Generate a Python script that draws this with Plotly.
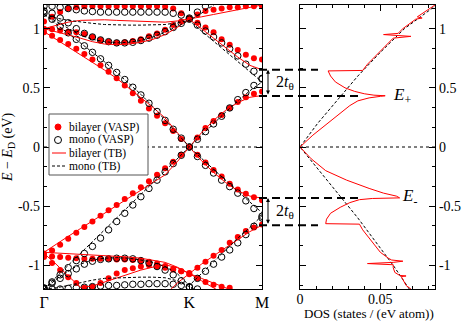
import plotly.graph_objects as go

# k-path: Gamma at 0, K at 18, M at 27 (index of the VASP k-points)
k_vasp = [0, 1, 2, 3, 4, 5, 6, 7, 8, 9, 10, 11, 12, 13, 14, 15, 16, 17, 18,
          19, 20, 21, 22, 23, 24, 25, 26, 27]
k_tb = [0, 1.5, 3, 4.5, 6, 7.5, 9, 10.5, 12, 13.5, 15, 16.5, 18,
        19.5, 21, 22.5, 24, 25.5, 27]
path_ticks = [0, 18, 27]
path_labels = ["Γ", "K", "M"]

# bilayer (VASP) bands, eV
bi_vasp_1 = [0.97, 0.94, 0.905, 0.87, 0.83, 0.785, 0.74, 0.69, 0.635, 0.58, 0.52, 0.455, 0.39, 0.325,
             0.265, 0.20, 0.135, 0.068, 0.0, 0.08, 0.16, 0.22, 0.27, 0.33, 0.38, 0.42, 0.45, 0.47]
bi_vasp_2 = [1.0, 0.995, 0.985, 0.975, 0.97, 0.955, 0.93, 0.905, 0.89, 0.88, 0.885, 0.895, 0.91, 0.935,
             0.96, 0.99, 1.03, 1.06, 1.08, 1.05, 1.01, 0.97, 0.91, 0.865, 0.82, 0.78, 0.75, 0.74]
bi_vasp_3 = [1.06, 1.10, 1.14, 1.17, 1.18, 1.19, 1.19, 1.19, 1.19, 1.19, 1.19, 1.19, 1.19, 1.19,
             1.19, 1.185, 1.17, 1.13, 1.09, 1.12, 1.15, 1.16, 1.17, 1.18, 1.18, 1.19, 1.19, 1.19]
bi_vasp_4 = [-0.90, -0.875, -0.825, -0.775, -0.725, -0.675, -0.63, -0.58, -0.535, -0.49, -0.44, -0.39,
             -0.34, -0.29, -0.235, -0.18, -0.125, -0.065, 0.0, -0.065, -0.13, -0.195, -0.25, -0.31,
             -0.36, -0.395, -0.425, -0.45]
bi_vasp_5 = [-0.92, -0.925, -0.93, -0.935, -0.94, -0.945, -0.945, -0.945, -0.945, -0.95, -0.95, -0.955,
             -0.96, -0.97, -0.985, -1.005, -1.03, -1.05, -1.075, -1.11, -1.14, -1.165, -1.18, -1.19,
             None, None, None, None]
bi_vasp_6 = [-0.93, -0.98, -1.04, -1.10, -1.15, -1.19, -1.18, -1.15, -1.11, -1.07, -1.04, -1.025,
             -1.01, -1.0, -1.01, -1.02, -1.035, -1.05, -1.065, -1.02, -0.97, -0.92, -0.87, -0.81,
             -0.76, -0.71, -0.68, -0.655]

# monolayer (VASP) bands, eV
mono_vasp_1 = [1.13, 1.08, 1.02, 0.965, 0.91, 0.855, 0.80, 0.745, 0.69, 0.63, 0.57, 0.505, 0.44, 0.37,
               0.30, 0.225, 0.15, 0.075, 0.0, 0.065, 0.13, 0.195, 0.26, 0.33, 0.40, 0.46, 0.52, 0.575]
mono_vasp_2 = [1.15, 1.13, 1.09, 1.05, 1.0, 0.96, 0.93, 0.905, 0.89, 0.88, 0.88, 0.885, 0.90, 0.92,
               0.945, 0.975, 1.01, 1.045, 1.08, 1.03, 0.98, 0.93, 0.88, 0.83, 0.77, 0.70, 0.64, 0.58]
mono_vasp_3 = [1.19, 1.19, 1.18, 1.17, 1.16, 1.15, 1.145, 1.14, 1.14, 1.14, 1.14, 1.14, 1.14, 1.14,
               1.14, 1.14, 1.13, 1.115, 1.09, 1.14, 1.19, None, None, None, None, None, None, None]
mono_vasp_4 = [-1.2, -1.14, -1.08, -1.02, -0.96, -0.90, -0.84, -0.77, -0.70, -0.63, -0.56, -0.49,
               -0.42, -0.35, -0.28, -0.21, -0.14, -0.07, 0.0, -0.08, -0.155, -0.22, -0.28, -0.335,
               -0.39, -0.455, -0.52, -0.585]
mono_vasp_5 = [-1.19, -1.15, -1.11, -1.07, -1.03, -0.99, -0.965, -0.95, -0.945, -0.94, -0.94, -0.945,
               -0.96, -0.98, -1.01, -1.04, -1.08, -1.13, -1.18, -1.11, -1.05, -0.99, -0.93, -0.87,
               -0.81, -0.74, -0.67, -0.60]
mono_vasp_6 = [-1.2, -1.2, -1.2, -1.195, -1.19, -1.185, -1.18, -1.175, -1.17, -1.17, -1.165, -1.16,
               -1.16, -1.155, -1.155, -1.155, -1.16, -1.17, -1.185, -1.2, None, None, None, None,
               None, None, None, None]

# bilayer (TB) bands, eV
bi_tb_1 = [0.975, 0.91, 0.85, 0.785, 0.72, 0.65, 0.58, 0.50, 0.42, 0.335, 0.245, 0.125, 0.0,
           0.12, 0.225, 0.31, 0.375, 0.42, 0.435]
bi_tb_2 = [1.0, 0.975, 0.95, 0.92, 0.89, 0.87, 0.865, 0.87, 0.885, 0.91, 0.95, 1.01, 1.08,
           1.0, 0.92, 0.84, 0.76, 0.69, 0.653]
bi_tb_3 = [1.0, 1.03, 1.055, 1.07, 1.075, 1.075, 1.07, 1.065, 1.06, 1.055, 1.055, 1.065, 1.08,
           1.1, 1.12, 1.14, 1.16, 1.18, 1.2]
bi_tb_4 = [-0.89, -0.82, -0.755, -0.69, -0.625, -0.565, -0.5, -0.435, -0.37, -0.305, -0.235, -0.125, 0.0,
           -0.115, -0.215, -0.3, -0.37, -0.415, -0.432]
bi_tb_5 = [-0.89, -0.895, -0.9, -0.905, -0.91, -0.915, -0.92, -0.93, -0.94, -0.955, -0.975, -1.015, -1.07,
           -1.11, -1.15, -1.19, -1.23, None, None]
bi_tb_6 = [-0.9, -0.99, -1.09, -1.185, -1.175, -1.14, -1.105, -1.07, -1.04, -1.015, -0.995, -1.02, -1.07,
           -1.13, -1.19, -1.25, None, None, None]
bi_tb_7 = [None, None, None, None, None, None, None, None, None, None, -1.25, -1.15, -1.07,
           -0.99, -0.92, -0.85, -0.78, -0.715, -0.661]

# monolayer (TB) bands, eV
mono_tb_1 = [1.12, 1.04, 0.965, 0.885, 0.80, 0.72, 0.63, 0.54, 0.445, 0.34, 0.23, 0.115, 0.0,
             0.1, 0.195, 0.295, 0.39, 0.475, 0.55]
mono_tb_2 = [1.12, 1.06, 1.0, 0.945, 0.91, 0.89, 0.88, 0.885, 0.9, 0.93, 0.97, 1.02, 1.07,
             0.98, 0.895, 0.81, 0.725, 0.64, 0.55]
mono_tb_3 = [1.12, 1.09, 1.07, 1.055, 1.045, 1.035, 1.03, 1.03, 1.03, 1.03, 1.035, 1.05, 1.07,
             1.13, 1.2, 1.27, None, None, None]
mono_tb_4 = [-1.2, -1.1, -1.0, -0.9, -0.8, -0.7, -0.6, -0.5, -0.4, -0.3, -0.2, -0.1, 0.0,
             -0.095, -0.19, -0.285, -0.375, -0.465, -0.555]
mono_tb_5 = [-1.2, -1.12, -1.05, -0.99, -0.955, -0.94, -0.935, -0.94, -0.955, -0.975, -1.01, -1.07, -1.17,
             -1.07, -0.97, -0.87, -0.77, -0.68, -0.58]
mono_tb_6 = [-1.2, -1.19, -1.17, -1.145, -1.125, -1.11, -1.105, -1.1, -1.1, -1.1, -1.105, -1.13, -1.18,
             -1.23, None, None, None, None, None]

# density of states (states / (eV atom)) against energy
dos_bi_energy = [-1.2, -1.17, -1.12, -1.095, -1.09, -1.085, -1.06, -1.02, -0.995, -0.985, -0.975, -0.965,
                 -0.955, -0.94, -0.89, -0.80, -0.70, -0.652, -0.648, -0.61, -0.56, -0.51, -0.47, -0.445,
                 -0.435, -0.43, -0.415, -0.39, -0.35, -0.28, -0.20, -0.10, 0.0, 0.10, 0.20, 0.29, 0.35,
                 0.39, 0.415, 0.428, 0.433, 0.438, 0.45, 0.47, 0.50, 0.55, 0.60, 0.643, 0.647, 0.70,
                 0.80, 0.90, 0.92, 0.935, 0.94, 0.95, 0.96, 1.0, 1.08, 1.09, 1.10, 1.2]
dos_bi = [0.069, 0.066, 0.064, 0.063, 0.066, 0.062, 0.059, 0.058, 0.058, 0.042, 0.058, 0.064,
          0.057, 0.055, 0.05, 0.045, 0.039, 0.037, 0.016, 0.0165, 0.019, 0.025, 0.031, 0.037,
          0.045, 0.062, 0.06, 0.052, 0.043, 0.029, 0.016, 0.007, 0.0, 0.008, 0.017, 0.025, 0.031,
          0.036, 0.043, 0.05, 0.053, 0.046, 0.04, 0.034, 0.028, 0.022, 0.019, 0.0175, 0.039, 0.042,
          0.049, 0.056, 0.058, 0.069, 0.061, 0.052, 0.061, 0.064, 0.072, 0.076, 0.073, 0.084]
dos_mono_energy = [-1.2, -1.0, -0.8, -0.6, -0.4, -0.2, 0.0, 0.2, 0.4, 0.6, 0.8, 1.0, 1.2]
dos_mono = [0.068, 0.058, 0.047, 0.036, 0.024, 0.012, 0.0, 0.011, 0.0235, 0.036, 0.05, 0.065, 0.085]

# van Hove / gap edges at M (E+ pair and E- pair), eV
edges_upper = [0.653, 0.432]
edges_lower = [-0.432, -0.661]

W, H = 463, 321
ML, MR, MT, MB = 44, 28, 5, 32
FONT = "Liberation Serif"
RED = "#ff0000"


def px(x):
    return (x - ML) / (W - ML - MR)


def py(y):
    return 1 - (y - MT) / (H - MT - MB)


fig = go.Figure()

for band in [bi_vasp_1, bi_vasp_2, bi_vasp_3, bi_vasp_4, bi_vasp_5, bi_vasp_6]:
    fig.add_trace(go.Scatter(x=k_vasp, y=band, mode="markers", xaxis="x", yaxis="y",
                             marker=dict(symbol="circle", size=6, color=RED),
                             showlegend=False, hoverinfo="skip"))
for band in [mono_vasp_1, mono_vasp_2, mono_vasp_3, mono_vasp_4, mono_vasp_5, mono_vasp_6]:
    fig.add_trace(go.Scatter(x=k_vasp, y=band, mode="markers", xaxis="x", yaxis="y",
                             marker=dict(symbol="circle-open", size=6.5, color="black",
                                         line=dict(width=1)),
                             showlegend=False, hoverinfo="skip"))
for band in [bi_tb_1, bi_tb_2, bi_tb_3, bi_tb_4, bi_tb_5, bi_tb_6, bi_tb_7]:
    fig.add_trace(go.Scatter(x=k_tb, y=band, mode="lines", xaxis="x", yaxis="y",
                             line=dict(color=RED, width=1),
                             showlegend=False, hoverinfo="skip"))
for band in [mono_tb_1, mono_tb_2, mono_tb_3, mono_tb_4, mono_tb_5, mono_tb_6]:
    fig.add_trace(go.Scatter(x=k_tb, y=band, mode="lines", xaxis="x", yaxis="y",
                             line=dict(color="black", width=1, dash="3px,2px"),
                             showlegend=False, hoverinfo="skip"))

# DOS panel
fig.add_trace(go.Scatter(x=dos_mono, y=dos_mono_energy, mode="lines", xaxis="x2", yaxis="y2",
                         line=dict(color="black", width=1, dash="3px,2px"),
                         showlegend=False, hoverinfo="skip"))
fig.add_trace(go.Scatter(x=dos_bi, y=dos_bi_energy, mode="lines", xaxis="x2", yaxis="y2",
                         line=dict(color=RED, width=1),
                         showlegend=False, hoverinfo="skip"))

axis_common = dict(showline=True, linecolor="black", linewidth=1.2, mirror="ticks",
                   ticks="inside", tickcolor="black", tickwidth=1, showgrid=False,
                   zeroline=False, automargin=False)
tick_font = dict(family=FONT, size=14, color="black")
energy_ticks = dict(tickmode="array", tickvals=[-1, -0.5, 0, 0.5, 1],
                    ticktext=["-1", "-0.5", "0", "0.5", "1"], range=[-1.2, 1.2], ticklen=6,
                    tickfont=tick_font,
                    minor=dict(tick0=0, dtick=0.5 / 3, ticks="inside", ticklen=3,
                               tickcolor="black"))

shapes = []
# zero-energy dotted lines
for xr, yr in [("x domain", "y"), ("x2 domain", "y2")]:
    shapes.append(dict(type="line", xref=xr, yref=yr, x0=0, x1=1, y0=0, y1=0, layer="below",
                       line=dict(color="black", width=1, dash="dot")))
# long dashed lines marking the split peaks
for e, x_end in zip(edges_upper + edges_lower, [318, 358, 358, 318]):
    shapes.append(dict(type="line", xref="paper", yref="y", x0=px(259), x1=px(x_end), y0=e, y1=e,
                       line=dict(color="black", width=2, dash="8px,5px")))

# legend box, drawn by hand to match the compact original
shapes.append(dict(type="rect", xref="paper", yref="paper", x0=px(49), x1=px(148), y0=py(175),
                   y1=py(114), fillcolor="white", line=dict(color="#555555", width=1)))
shapes.append(dict(type="circle", xref="paper", yref="paper", x0=px(55), x1=px(61), y0=py(130),
                   y1=py(124), fillcolor=RED, line=dict(color=RED, width=1)))
shapes.append(dict(type="circle", xref="paper", yref="paper", x0=px(54.5), x1=px(61.5),
                   y0=py(143.5), y1=py(136.5), line=dict(color="black", width=1)))
shapes.append(dict(type="line", xref="paper", yref="paper", x0=px(52), x1=px(66), y0=py(153),
                   y1=py(153), line=dict(color=RED, width=1)))
shapes.append(dict(type="line", xref="paper", yref="paper", x0=px(52), x1=px(66), y0=py(166),
                   y1=py(166), line=dict(color="black", width=1, dash="3px,2px")))

annotations = []
for label, yy in [("bilayer (VASP)", 127), ("mono (VASP)", 140), ("bilayer (TB)", 153),
                  ("mono (TB)", 166)]:
    annotations.append(dict(text=label, xref="paper", yref="paper", x=px(67), y=py(yy),
                            xanchor="left", yanchor="middle", showarrow=False,
                            font=dict(family=FONT, size=11.5, color="black")))
for e_hi, e_lo in [(edges_upper[0], edges_upper[1]), (edges_lower[0], edges_lower[1])]:
    annotations.append(dict(text="", xref="paper", yref="y", x=px(268), y=e_hi, ax=0,
                            ay=(e_hi - e_lo) * (H - MT - MB) / 2.4, showarrow=True,
                            arrowside="end+start", arrowhead=2, arrowsize=0.8, arrowwidth=1,
                            arrowcolor="black", standoff=0, startstandoff=0))
    annotations.append(dict(text="2<i>t</i><sub>θ</sub>", xref="paper", yref="y", x=px(285),
                            y=(e_hi + e_lo) / 2, showarrow=False, xanchor="center",
                            yanchor="middle", font=dict(family=FONT, size=16, color="black")))
annotations.append(dict(text="<i>E</i><sub>+</sub>", xref="paper", yref="y", x=px(391), y=0.43,
                        showarrow=False, xanchor="left", yanchor="middle",
                        font=dict(family=FONT, size=17, color="black")))
annotations.append(dict(text="<i>E</i><sub>-</sub>", xref="paper", yref="y", x=px(400), y=-0.42,
                        showarrow=False, xanchor="left", yanchor="middle",
                        font=dict(family=FONT, size=17, color="black")))
# DOS axis title, placed by hand below the tick labels
annotations.append(dict(text="DOS (states / (eV atom))", xref="paper", yref="paper", x=px(369),
                        y=py(313), showarrow=False, xanchor="center", yanchor="middle",
                        font=dict(family=FONT, size=13, color="black")))

fig.update_layout(
    width=W, height=H,
    margin=dict(l=ML, r=MR, t=MT, b=MB, autoexpand=False),
    plot_bgcolor="white", paper_bgcolor="white",
    font=dict(family=FONT, color="black"),
    showlegend=False,
    xaxis=dict(domain=[0, px(262)], range=[0, 27], tickmode="array", tickvals=path_ticks,
               ticktext=path_labels, ticklen=6, anchor="y", ticklabelstandoff=-1,
               tickfont=dict(family=FONT, size=16, color="black"), **axis_common),
    yaxis=dict(domain=[0, 1], anchor="x",
               title=dict(text="<i>E</i> − <i>E</i><sub>D</sub> (eV)",
                          font=dict(family=FONT, size=14, color="black"), standoff=6),
               **axis_common, **energy_ticks),
    xaxis2=dict(domain=[px(300), 1], range=[0, 0.084], anchor="y2", tickmode="array",
                tickvals=[0, 0.05], ticktext=["0", "0.05"], ticklen=6, tickfont=tick_font,
                ticklabelstandoff=-3,
                minor=dict(tick0=0, dtick=0.01, ticks="inside", ticklen=3, tickcolor="black"),
                **axis_common),
    yaxis2=dict(domain=[0, 1], anchor="x2", side="right", **axis_common, **energy_ticks),
    shapes=shapes,
    annotations=annotations,
)

# the page body has a default 8px margin; drop it so the figure fills the window
fig.write_html("out.html", config={"displayModeBar": False},
               post_script="document.body.style.margin='0';")
